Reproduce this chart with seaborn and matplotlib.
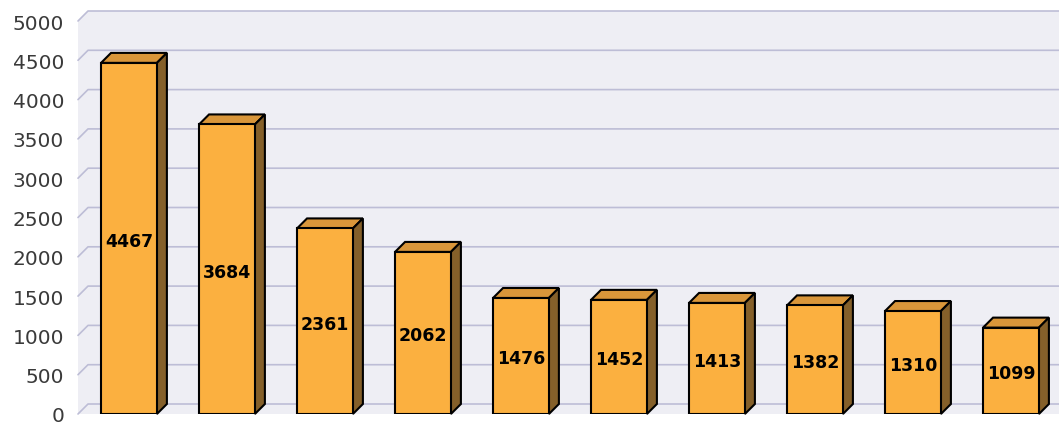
import matplotlib
matplotlib.use("Agg")
import matplotlib.pyplot as plt
import seaborn as sns
import pandas as pd

# values (left to right)
categories = ["A", "B", "C", "D", "E", "F", "G", "H", "I", "J"]
counts = [4467, 3684, 2361, 2062, 1476, 1452, 1413, 1382, 1310, 1099]
yticks = list(range(0, 5001, 500))

front_color = "#FBB040"
top_color = "#D9963A"
side_color = "#85602A"
wall_color = "#EEEEF4"
grid_color = "#BDBDD6"

sns.set_style("white")

fig = plt.figure(figsize=(10.59, 4.27), dpi=100)
W, H = 1059, 427
ax = fig.add_axes([78 / W, 12 / H, 971 / W, 393 / H])

df = pd.DataFrame({"cat": categories, "count": counts})
sns.barplot(data=df, x="cat", y="count", color=front_color, saturation=1,
            edgecolor="black", linewidth=1.5, width=0.57, ax=ax, zorder=3)

xmin, xmax = -0.52, 9.388
ymin, ymax = 0, 5000
ax.set_xlim(xmin, xmax)
ax.set_ylim(ymin, ymax)

# depth offset of 10 px, converted to data units
depth_px = 10
dx = depth_px * (xmax - xmin) / 971
dy = depth_px * (ymax - ymin) / 393

ax.set_facecolor("white")
# wall background
ax.fill([xmin, xmax + dx, xmax + dx, xmin + dx, xmin],
        [ymin, ymin, ymax + dy, ymax + dy, ymax],
        color=wall_color, zorder=0, clip_on=False, lw=0)

# gridlines on the back wall with diagonal connectors on the left
for v in yticks:
    ax.plot([xmin, xmin + dx, xmax + dx], [v, v + dy, v + dy],
            color=grid_color, lw=1.2, zorder=1, clip_on=False)

# 3D faces and labels
for patch, v in zip(ax.patches, counts):
    x0 = patch.get_x()
    w = patch.get_width()
    h = patch.get_height()
    ax.fill([x0, x0 + dx, x0 + w + dx, x0 + w], [h, h + dy, h + dy, h],
            facecolor=top_color, edgecolor="black", lw=1.5, zorder=2.5,
            clip_on=False)
    ax.fill([x0 + w, x0 + w, x0 + w + dx, x0 + w + dx], [0, h, h + dy, dy],
            facecolor=side_color, edgecolor="black", lw=1.5, zorder=2.5,
            clip_on=False)
    ax.text(x0 + w / 2, h / 2 - 30, str(v), ha="center", va="center",
            fontsize=12.5, fontweight="bold", color="black", zorder=4)

ax.set_yticks(yticks)
ax.set_yticklabels([str(t) for t in yticks], fontsize=14.5, color="#3A3A3A")
ax.tick_params(axis="y", length=0, pad=10)
ax.set_xticks([])
ax.set_xlabel("")
ax.set_ylabel("")
sns.despine(ax=ax, left=True, bottom=True)

fig.savefig("out.png", dpi=100)
